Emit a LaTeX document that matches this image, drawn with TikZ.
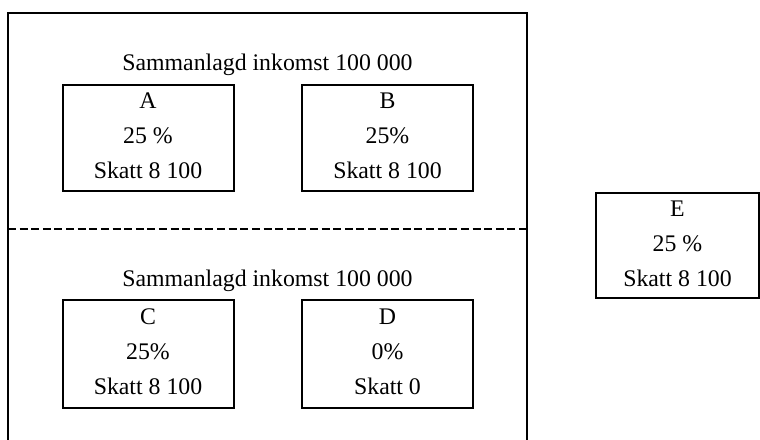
\documentclass[tikz,border=0pt]{standalone}
\usepackage{fontspec}
\setmainfont{Liberation Serif}
\begin{document}
\begin{tikzpicture}[x=0.5pt,y=-0.5pt,
  frame/.style={line width=1pt},
  taxbox/.style={draw,line width=1pt,rectangle,align=center,inner sep=0pt,
    text depth=2pt,font=\fontsize{11.9pt}{17.5pt}\selectfont},
  headline/.style={anchor=base,inner sep=0pt,font=\fontsize{11.9pt}{14pt}\selectfont},
  divider/.style={line width=0.75pt,dash pattern=on 4pt off 1.807pt}]
  \useasboundingbox (0,0) rectangle (760,439);
  % open frame around the two households
  \coordinate (fbl) at (8,441);
  \coordinate (ftl) at (8,13);
  \coordinate (ftr) at (527,13);
  \coordinate (fbr) at (527,441);
  \draw[frame] (fbl) -- (ftl) -- (ftr) -- (fbr);
  % dashed separator
  \coordinate (dl) at (8,229);
  \coordinate (dr) at (527,229);
  \draw[divider] (dl) -- (dr);
  % upper household
  \node[headline] (h1) at (267.5,70) {Sammanlagd inkomst 100 000};
  \node[taxbox,minimum width=85.5pt,minimum height=53pt] (A) at (148,138)
    {A\\25 \%\\Skatt 8 100};
  \node[taxbox,minimum width=85.5pt,minimum height=53pt] (B) at (387.5,138)
    {B\\25\%\\Skatt 8 100};
  % lower household
  \node[headline] (h2) at (267.5,286) {Sammanlagd inkomst 100 000};
  \node[taxbox,minimum width=85.5pt,minimum height=54pt] (C) at (148,354)
    {C\\25\%\\Skatt 8 100};
  \node[taxbox,minimum width=85.5pt,minimum height=54pt] (D) at (387.5,354)
    {D\\0\%\\Skatt 0};
  % single person
  \node[taxbox,minimum width=81.5pt,minimum height=52.5pt] (E) at (677.5,245.5)
    {E\\25 \%\\Skatt 8 100};
\end{tikzpicture}
\end{document}
